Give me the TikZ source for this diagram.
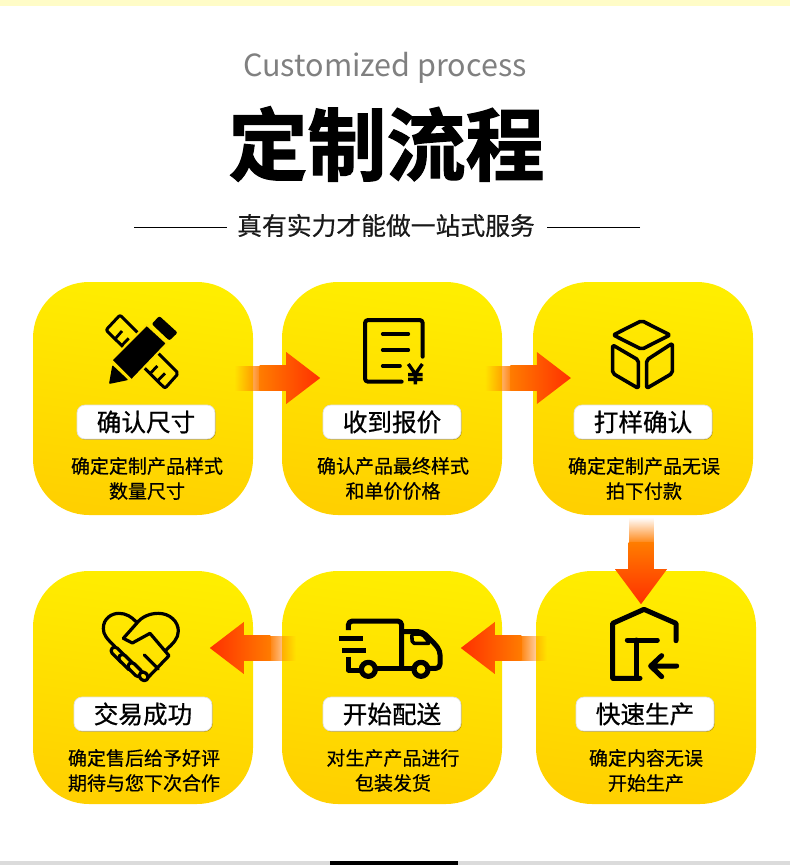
\documentclass[tikz,border=0pt]{standalone}
\usepackage{fontspec}
\usetikzlibrary{fadings}
\setmainfont{Noto Sans CJK SC}
\newfontfamily\cjkm{Noto Sans CJK SC}[FakeBold=0.7]
\newfontfamily\cjkd{Noto Sans CJK SC}[FakeBold=0.5]
\newfontfamily\cjkt{Noto Sans CJK SC Bold}[FakeBold=1.6]
\newfontfamily\latinl{Noto Sans CJK SC}
\definecolor{cardtop}{HTML}{FFEE00}
\definecolor{cardbot}{HTML}{FFD000}
\definecolor{iconbg}{HTML}{FFE000}
\pgfdeclarehorizontalshading{fsL}{100bp}{color(0bp)=(black); color(32bp)=(black); color(78bp)=(white); color(100bp)=(white)}
\pgfdeclarehorizontalshading{fsR}{100bp}{color(0bp)=(white); color(22bp)=(white); color(68bp)=(black); color(100bp)=(black)}
\pgfdeclareverticalshading{fsT}{100bp}{color(0bp)=(white); color(22bp)=(white); color(68bp)=(black); color(100bp)=(black)}
\pgfdeclarefading{fromleft}{\pgfuseshading{fsL}}
\pgfdeclarefading{fromright}{\pgfuseshading{fsR}}
\pgfdeclarefading{fromtop}{\pgfuseshading{fsT}}
\tikzset{
  x=1pt,y=-1pt,
  card/.style={minimum width=220pt,minimum height=233pt,inner sep=0pt,rounded corners=56pt,
    shading=axis,top color=cardtop,bottom color=cardbot,shading angle=-8},
  pillbox/.style={minimum width=138pt,minimum height=34pt,inner sep=0pt,rounded corners=8pt,
    fill=white,draw=black!12,line width=.7pt,font=\cjkm\fontsize{24.6}{25}\selectfont,text=black},
  pillshadow/.style={minimum width=138pt,minimum height=34pt,inner sep=0pt,rounded corners=8pt,fill=black!15!cardbot!85!black},
  descr/.style={align=center,inner sep=0pt,font=\cjkd\fontsize{19}{25}\selectfont,text=black},
  ic/.style={draw=black,line width=#1,line cap=round,line join=round},
  ic/.default=4pt,
  fadeR/.style={fill=#1,path fading=fromleft},
  fadeL/.style={fill=#1,path fading=fromright},
  bodyR/.style={left color=flowa,right color=flowb},
  bodyL/.style={left color=flowb,right color=flowa},
  headR/.style={left color=flowb,right color=flowc},
  headL/.style={left color=flowc,right color=flowb},
}
\definecolor{flowa}{HTML}{FF7C00}
\definecolor{flowb}{HTML}{FF5A00}
\definecolor{flowc}{HTML}{FF3000}
% name of start coordinate, sign, R/L
\newcommand\flowH[3]{\begin{scope}[shift={(#1)}]
  \fill[fade#3=flowa] (0,-12.5) rectangle ({#2*30},12.5);
  \shade[body#3] ({#2*29.5},-12.5) rectangle ({#2*56},12.5);
  \shade[head#3] ({#2*56},-26) -- ({#2*90},0) -- ({#2*56},26) -- cycle;
\end{scope}}
\newcommand\flowV[1]{\begin{scope}[shift={(#1)}]
  \fill[fill=flowa,path fading=fromtop] (-12.5,0) rectangle (12.5,30);
  \shade[top color=flowa,bottom color=flowb] (-12.5,29.5) rectangle (12.5,56);
  \shade[top color=flowb,bottom color=flowc] (-26,56) -- (26,56) -- (0,91) -- cycle;
\end{scope}}
\begin{document}
\begin{tikzpicture}
\useasboundingbox (0,0) rectangle (790,865);
\fill[white] (0,0) rectangle (790,865);
\fill[fill=yellow!22!white] (0,0) rectangle (790,6);
\fill[black!14] (0,861) rectangle (790,865);
\fill[black] (330,861) rectangle (458,865);

% titles
\node[text=black!50,font=\latinl\fontsize{30.5}{31}\selectfont,inner sep=0pt] (en) at (385,68) {Customized process};
\node[text=black,font=\cjkt\fontsize{79}{79}\selectfont,inner sep=0pt] (zh) at (386.5,144) {定制流程};
\node[text=black!90,font=\cjkd\fontsize{24.8}{24.8}\selectfont,inner sep=0pt] (sub) at (386,225.5) {真有实力才能做一站式服务};
\coordinate (l1) at (134,227); \coordinate (l2) at (640,227);
\draw[line width=1pt] (l1) -- (l1 -| 227,0);
\draw[line width=1pt] (l2) -- (l2 -| 547,0);

% cards
\node[card] (c1) at (143,398.5) {};
\node[card] (c2) at (392,398.5) {};
\node[card] (c3) at (643,398.5) {};
\node[card] (c4) at (143,687.5) {};
\node[card] (c5) at (392,687.5) {};
\node[card] (c6) at (646,687.5) {};

% pills
\node[pillshadow] (s1) at (146.7,422.8) {};
\node[pillshadow] (s2) at (392.7,422.8) {};
\node[pillshadow] (s3) at (643.7,422.8) {};
\node[pillshadow] (s4) at (143.7,714.8) {};
\node[pillshadow] (s5) at (392.7,714.8) {};
\node[pillshadow] (s6) at (645.7,714.8) {};
\node[pillbox] (p1) at (146,422) {确认尺寸};
\node[pillbox] (p2) at (392,422) {收到报价};
\node[pillbox] (p3) at (643,422) {打样确认};
\node[pillbox] (p4) at (143,714) {交易成功};
\node[pillbox] (p5) at (392,714) {开始配送};
\node[pillbox] (p6) at (645,714) {快速生产};

% descriptions
\node[descr] (d1) at (147,478.5) {确定定制产品样式\\数量尺寸};
\node[descr] (d2) at (393,478.5) {确认产品最终样式\\和单价价格};
\node[descr] (d3) at (644,478.5) {确定定制产品无误\\拍下付款};
\node[descr] (d4) at (144,770.5) {确定售后给予好评\\期待与您下次合作};
\node[descr] (d5) at (393,770.5) {对生产产品进行\\包装发货};
\node[descr] (d6) at (646,770.5) {确定内容无误\\开始生产};

% flow arrows
\coordinate (a1) at ([shift={(-23,-20.5)}]c1.east);
\coordinate (a2) at ([shift={(-21.3,-20.5)}]c2.east);
\coordinate (a3) at ([shift={(-2,-2)}]c3.south);
\coordinate (a4) at ([shift={(15,-39.5)}]c6.west);
\coordinate (a5) at ([shift={(18,-39.5)}]c5.west);
\flowH{a1}{1}{R}
\flowH{a2}{1}{R}
\flowV{a3}
\flowH{a4}{-1}{L}
\flowH{a5}{-1}{L}

% icon 1: ruler and pencil
\begin{scope}[shift={(100,310)},scale=1/3]
  \draw[ic=3pt,rounded corners=2pt] (60,15) -- (18,60) -- (195,235) -- (235,190) -- cycle;
  \draw[ic=2.8pt,line cap=butt] (45,87) -- (66,63) (65,107) -- (86,85) (150,191) -- (172,168) (172,213) -- (195,190);
  \fill[black,draw=iconbg,line width=2pt,line join=round] (34,150) -- (140,44) -- (201,100) -- (95,211) -- cycle;
  \fill[black,rounded corners=1pt] (27,222) -- (37,165) -- (85,210) -- cycle;
  \fill[black,rounded corners=2pt] (178,18) -- (233,68) -- (208,92) -- (155,42) -- cycle;
\end{scope}

% icon 2: document
\begin{scope}[shift={(330,290)},scale=1/3]
  \draw[ic,rounded corners=3pt] (215,275) -- (105,275) -- (105,90) -- (278,90) -- (278,200);
  \draw[ic=3.6pt] (158,132) -- (235,132) (158,180) -- (235,180) (158,228) -- (210,228);
  \draw[ic=3.4pt,line cap=butt,line join=miter] (235,222) -- (256,252) -- (277,222) (256,252) -- (256,283) (234,254) -- (278,254) (234,268) -- (278,268);
\end{scope}

% icon 3: box
\begin{scope}[shift={(330,290)},scale=1/3]
  \draw[ic=3.6pt,rounded corners=2pt] (935,92) -- (1020,135) -- (935,178) -- (850,135) -- cycle;
  \draw[ic=3.6pt,rounded corners=2pt] (848,165) -- (925,210) -- (925,295) -- (848,250) -- cycle;
  \draw[ic=3.6pt,rounded corners=2pt] (1027,160) -- (950,210) -- (950,295) -- (1027,250) -- cycle;
\end{scope}

% icon 4: handshake
\begin{scope}[shift={(95,605)},scale=1/3]
  \draw[ic=3.2pt] (60,125) .. controls (35,100) and (25,90) .. (25,70)
     .. controls (25,40) and (50,25) .. (72,25) .. controls (92,25) and (110,35) .. (125,52);
  \draw[ic=3.2pt] (85,100) -- (125,55) .. controls (140,35) and (165,25) .. (190,25)
     .. controls (225,25) and (250,50) .. (250,78) .. controls (250,100) and (235,115) .. (213,135);
  \draw[ic=3.2pt] (85,100) -- (112,114) -- (165,85) -- (222,152) -- (155,222);
  \draw[ic=3.2pt] (148,150) -- (190,192);
  \foreach \cx/\cy/\ln in {72/150/18, 95/172/18, 120/194/14, 146/214/3}{
    \draw[ic=3.2pt,line cap=butt,fill=iconbg,rotate around={-45:(\cx,\cy)}]
      (\cx-\ln,\cy-11) -- (\cx+\ln,\cy-11) arc (-90:90:11) -- (\cx-\ln,\cy+11) arc (90:270:11) -- cycle;
  }
\end{scope}

% icon 5: truck
\begin{scope}[shift={(335,610)},scale=1/3]
  \draw[ic=5pt,line cap=butt,rounded corners=4pt] (40,60) -- (40,33) -- (200,33) -- (200,175);
  \draw[ic=5pt,line cap=butt] (40,140) -- (40,180) -- (75,180);
  \draw[ic=5pt,line cap=butt] (125,175) -- (235,175);
  \draw[ic=5pt,line cap=butt,rounded corners=4pt] (282,175) -- (315,175) -- (315,122) -- (298,100) -- (262,65) -- (200,65);
  \draw[ic=3.6pt,line cap=butt,rounded corners=2pt] (230,72) -- (232,100) -- (285,100) -- (262,72) -- cycle;
  \draw[ic=5.2pt] (100,178) circle[radius=21];
  \draw[ic=5.2pt] (258,178) circle[radius=21];
  \draw[ic=5pt,line cap=butt] (12,85) -- (85,85) (22,122) -- (92,122);
\end{scope}

% icon 6: house
\begin{scope}[shift={(530,510)},scale=1/3]
  \draw[ic=5pt] (330,505) -- (248,505) -- (248,340) -- (342,298) -- (438,340) -- (438,392);
  \draw[ic=5pt] (292,390) -- (382,390) (318,390) -- (318,505);
  \draw[ic=5pt] (440,468) -- (362,468) (395,437) -- (362,468) -- (395,500);
\end{scope}
\end{tikzpicture}
\end{document}
